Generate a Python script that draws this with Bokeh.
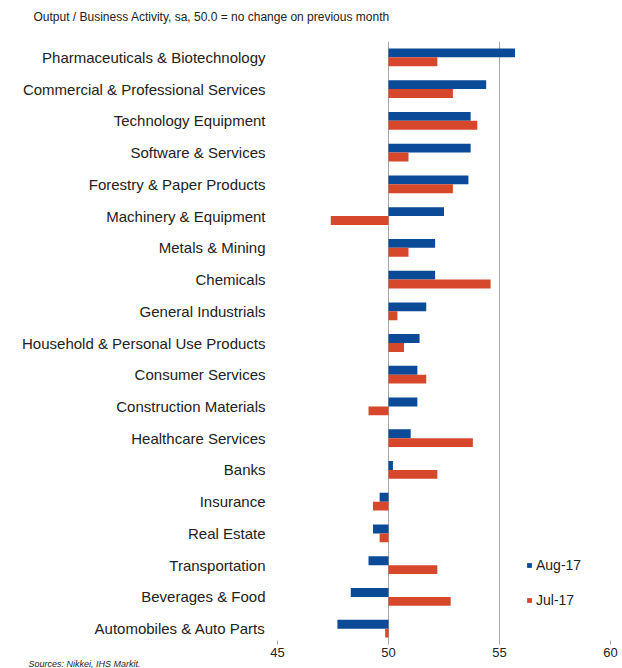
from bokeh.plotting import figure
from bokeh.models import FactorRange, Range1d, FixedTicker, Legend, LegendItem, ColumnDataSource, Title
from bokeh.transform import dodge
from bokeh.embed import file_html
from bokeh.resources import INLINE

categories = [
    "Pharmaceuticals & Biotechnology",
    "Commercial & Professional Services",
    "Technology Equipment",
    "Software & Services",
    "Forestry & Paper Products",
    "Machinery & Equipment",
    "Metals & Mining",
    "Chemicals",
    "General Industrials",
    "Household & Personal Use Products",
    "Consumer Services",
    "Construction Materials",
    "Healthcare Services",
    "Banks",
    "Insurance",
    "Real Estate",
    "Transportation",
    "Beverages & Food",
    "Automobiles & Auto Parts",
]
aug17 = [55.7, 54.4, 53.7, 53.7, 53.6, 52.5, 52.1, 52.1, 51.7, 51.4, 51.3, 51.3,
         51.0, 50.2, 49.6, 49.3, 49.1, 48.3, 47.7]
jul17 = [52.2, 52.9, 54.0, 50.9, 52.9, 47.4, 50.9, 54.6, 50.4, 50.7, 51.7, 49.1,
         53.8, 52.2, 49.3, 49.6, 52.2, 52.8, 49.85]
x_ticks = [45, 50, 55, 60]
series_names = ["Aug-17", "Jul-17"]

FONT = "Liberation Sans"
BLUE = "#0B4A96"
RED = "#D6472B"
GRID = "#A6A6A6"
TXT = "#222222"

src = ColumnDataSource(dict(cat=categories, aug=aug17, jul=jul17))

p = figure(
    width=622, height=668,
    y_range=FactorRange(factors=categories[::-1]),
    x_range=Range1d(45, 60),
    output_backend="svg", toolbar_location=None,
    min_border_left=277, min_border_right=12, min_border_top=41, min_border_bottom=24,
)
p.outline_line_color = None
p.background_fill_color = "white"

r_aug = p.hbar(y=dodge("cat", 0.14, range=p.y_range), left=50, right="aug", height=0.28,
               color=BLUE, line_color=None, source=src)
r_jul = p.hbar(y=dodge("cat", -0.14, range=p.y_range), left=50, right="jul", height=0.28,
               color=RED, line_color=None, source=src)

# x axis
p.xaxis.ticker = FixedTicker(ticks=x_ticks)
p.xaxis.axis_line_color = None
p.xaxis.major_tick_in = 4
p.xaxis.major_tick_out = 0
p.xaxis.major_tick_line_color = GRID
p.xaxis.minor_tick_line_color = None
p.xaxis.major_label_standoff = 3
p.xaxis.major_label_text_font = FONT
p.xaxis.major_label_text_font_size = "13px"
p.xaxis.major_label_text_color = TXT

# y axis
p.yaxis.axis_line_color = None
p.yaxis.major_tick_line_color = None
p.yaxis.major_tick_out = 0
p.yaxis.major_tick_in = 0
p.yaxis.minor_tick_line_color = None
p.yaxis.major_label_standoff = 12
p.yaxis.major_label_text_font = FONT
p.yaxis.major_label_text_font_size = "15px"
p.yaxis.major_label_text_color = TXT

p.xgrid.ticker = FixedTicker(ticks=[50, 55, 60])
p.xgrid.grid_line_color = GRID
p.ygrid.grid_line_color = None

legend = Legend(
    items=[LegendItem(label=series_names[0], renderers=[r_aug]),
           LegendItem(label=series_names[1], renderers=[r_jul])],
    location=(249, 36), orientation="vertical",
    glyph_width=6, glyph_height=6, label_height=14, spacing=19,
    padding=0, margin=0, label_standoff=4,
    label_text_font=FONT, label_text_font_size="14px", label_text_color=TXT,
    border_line_color=None, background_fill_alpha=0,
)
p.add_layout(legend, "center")

# main title (outermost panel)
p.title.text = "Output / Business Activity, sa, 50.0 = no change on previous month"
p.title.align = "left"
p.title.offset = -244
p.title.standoff = 15
p.title.text_font = FONT
p.title.text_font_size = "12px"
p.title.text_font_style = "normal"
p.title.text_color = TXT

# spacer panel between title and frame
spacer = Title(text=" ", text_font_size="1px", standoff=7)
p.add_layout(spacer, "above")

sources = Title(text="Sources: Nikkei, IHS Markit.", align="left", offset=-249, standoff=-18,
                text_font=FONT, text_font_size="9px", text_font_style="italic",
                text_color=TXT)
p.add_layout(sources, "below")

open("out.html", "w").write(file_html(p, INLINE))
